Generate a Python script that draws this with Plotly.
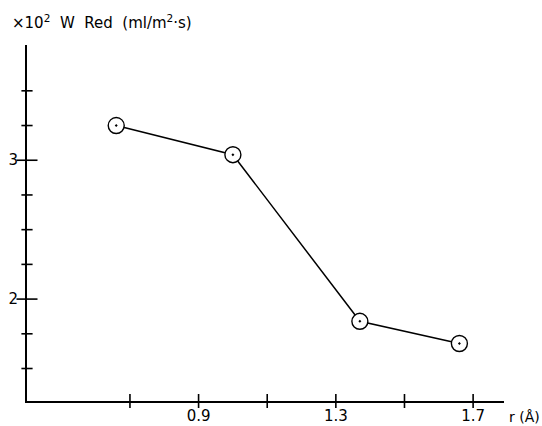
import plotly.graph_objects as go

# data
r_vals = [0.66, 1.00, 1.37, 1.66]
w_red = [3.25, 3.04, 1.84, 1.68]

x_ticks = [0.7, 0.9, 1.1, 1.3, 1.5, 1.7]
x_labels = ["", "0.9", "", "1.3", "", "1.7"]
y_minor = [1.5, 1.75, 2.25, 2.5, 2.75, 3.25, 3.5]
y_major = [2, 3]
y_labels = ["2", "3"]

x_range = [0.4, 1.79]
y_range = [1.266, 3.83]

FONT = "DejaVu Sans, Liberation Sans, sans-serif"

fig = go.Figure()

# tick marks crossing the axes
fig.add_trace(go.Scatter(
    x=x_ticks, y=[y_range[0]] * len(x_ticks), mode="markers",
    marker=dict(symbol="line-ns", size=10, line=dict(color="black", width=1.6)),
    cliponaxis=False, hoverinfo="skip", showlegend=False))
fig.add_trace(go.Scatter(
    x=[x_range[0]] * len(y_minor), y=y_minor, mode="markers",
    marker=dict(symbol="line-ew", size=8, line=dict(color="black", width=1.6)),
    cliponaxis=False, hoverinfo="skip", showlegend=False))
fig.add_trace(go.Scatter(
    x=[x_range[0]] * len(y_major), y=y_major, mode="markers",
    marker=dict(symbol="line-ew", size=15, line=dict(color="black", width=1.6)),
    cliponaxis=False, hoverinfo="skip", showlegend=False))

# data line
fig.add_trace(go.Scatter(
    x=r_vals, y=w_red, mode="lines+markers",
    line=dict(color="black", width=1.5),
    marker=dict(symbol="circle-dot", size=16, color="white",
                line=dict(color="black", width=1.4)),
    cliponaxis=False, showlegend=False))

fig.update_layout(
    width=542, height=426,
    margin=dict(l=27, r=38, t=45, b=25),
    paper_bgcolor="white", plot_bgcolor="white",
    font=dict(family=FONT, size=14, color="black"),
    xaxis=dict(range=x_range, showgrid=False, zeroline=False,
               showline=True, linecolor="black", linewidth=2,
               tickmode="array", tickvals=x_ticks, ticktext=x_labels,
               ticks="", ticklabelstandoff=0, automargin=False,
               tickfont=dict(size=15)),
    yaxis=dict(range=y_range, showgrid=False, zeroline=False,
               showline=True, linecolor="black", linewidth=2,
               tickmode="array", tickvals=y_major, ticktext=y_labels,
               ticks="", ticklabelstandoff=4, automargin=False,
               tickfont=dict(size=15)),
    annotations=[
        dict(text="×10<sup>2</sup>\u00a0 W\u00a0 Red\u00a0 (ml/m<sup>2</sup>·s)",
             xref="paper", yref="paper", x=-0.035, y=1.065,
             xanchor="left", yanchor="middle", showarrow=False,
             font=dict(size=15, family=FONT)),
        dict(text="r (Å)", xref="paper", yref="paper", x=1.044, y=-0.045,
             xanchor="center", yanchor="middle", showarrow=False,
             font=dict(size=14, family=FONT)),
    ],
)

fig.write_html("out.html", config={"displayModeBar": False},
               post_script="document.body.style.margin='0';document.body.style.overflow='hidden';")
